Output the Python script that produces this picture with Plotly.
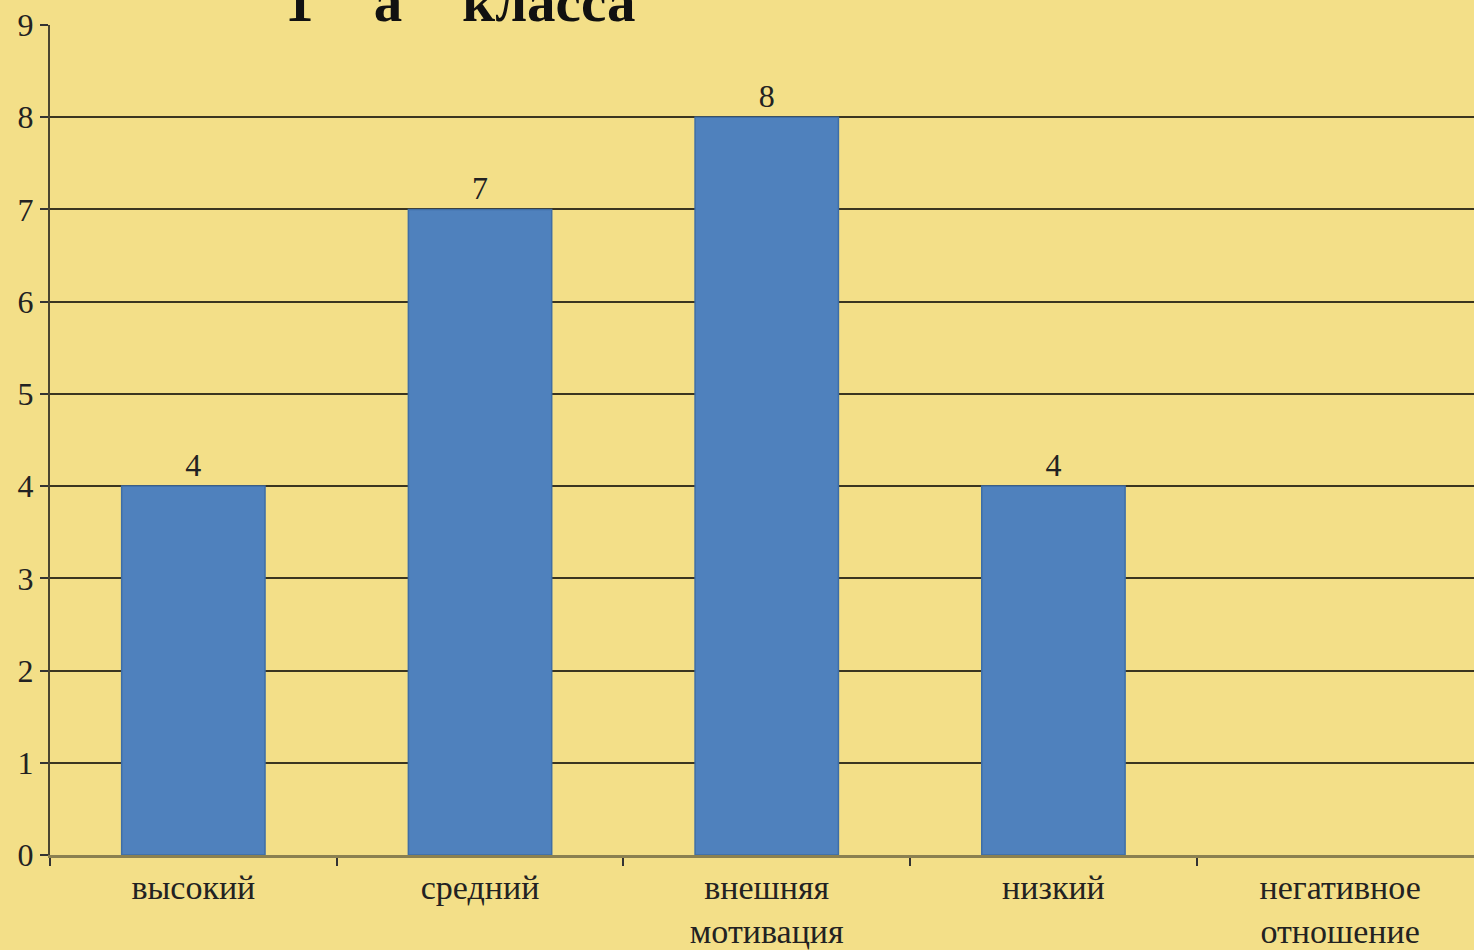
import plotly.graph_objects as go

categories = ["высокий", "средний", "внешняя<br>мотивация", "низкий", "негативное<br>отношение"]
values = [4, 7, 8, 4, None]
labels = ["4", "7", "8", "4", ""]
y_ticks = [0, 1, 2, 3, 4, 5, 6, 7, 8, 9]
title_text = '1  "а"  класса'

BG = "#F3DF88"
SERIF = "Liberation Serif, Times New Roman, serif"

fig = go.Figure()
fig.add_trace(go.Bar(
    x=categories, y=values, text=labels, textposition="outside",
    textfont=dict(family=SERIF, size=32, color="#222222"),
    marker=dict(color="#4F81BD", line=dict(color="#3E6EA6", width=1.5)),
    width=0.5, cliponaxis=False,
))

fig.update_layout(
    width=1474, height=950,
    paper_bgcolor=BG, plot_bgcolor=BG,
    margin=dict(l=50, r=0, t=25, b=95, autoexpand=False),
    showlegend=False,
    bargap=0.5,
    font=dict(family=SERIF, color="#222222"),
    xaxis=dict(
        type="category", range=[-0.5, 4.467], automargin=False,
        tickson="boundaries", ticks="outside", ticklen=8, tickcolor="#333333", tickwidth=2,
        showline=True, linecolor="#8A8050", linewidth=3,
        showgrid=False, ticklabelstandoff=0,
        tickfont=dict(family=SERIF, size=34, color="#222222"),
    ),
    yaxis=dict(
        range=[0, 9], tickvals=y_ticks, ticks="outside", ticklen=8,
        tickcolor="#333333", tickwidth=2, automargin=False,
        showline=True, linecolor="#4A4530", linewidth=2,
        showgrid=True, gridcolor="#3A3520", gridwidth=2,
        zeroline=False,
        tickfont=dict(family=SERIF, size=32, color="#222222"),
    ),
    annotations=[dict(
        text="<b>" + title_text + "</b>", xref="paper", yref="paper",
        x=(460 - 50) / 1424, y=1.0, yanchor="bottom", xanchor="center",
        yshift=-10, showarrow=False,
        font=dict(family=SERIF, size=57, color="#111111"),
    )],
)

fig.write_html("out.html")
